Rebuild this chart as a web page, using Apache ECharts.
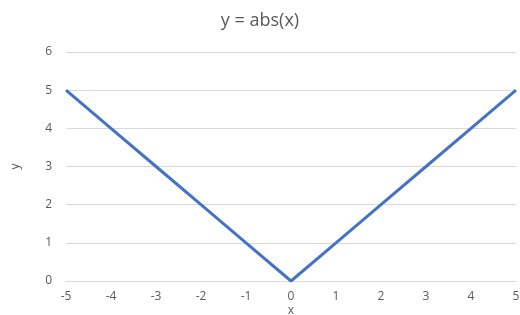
<!DOCTYPE html>
<html>
<head>
<meta charset="utf-8">
<script src="https://cdn.jsdelivr.net/npm/echarts@6/dist/echarts.min.js"></script>
<style>html,body{margin:0;padding:0;background:#fff}#c{width:520px;height:315px}</style>
</head>
<body>
<div id="c"></div>
<script>
var xValues = [-5, -4, -3, -2, -1, 0, 1, 2, 3, 4, 5];
var yValues = [5, 4, 3, 2, 1, 0, 1, 2, 3, 4, 5];
var titleText = 'y = abs(x)';
var xName = 'x';
var yName = 'y';

var chart = echarts.init(document.getElementById('c'), null, {renderer: 'canvas'});
var font = '"Open Sans", sans-serif';
chart.setOption({
  animation: false,
  backgroundColor: '#ffffff',
  title: {
    text: titleText,
    left: 'center',
    top: 7,
    textStyle: {fontFamily: font, fontSize: 18, fontWeight: 'normal', color: '#595959'}
  },
  grid: {left: 66, right: 4, top: 52, bottom: 34, containLabel: false, outerBoundsMode: 'none'},
  xAxis: {
    type: 'value',
    min: -5, max: 5, interval: 1,
    name: xName,
    nameLocation: 'middle',
    nameGap: 24,
    nameMoveOverlap: false,
    nameTextStyle: {fontFamily: font, fontSize: 12, color: '#595959'},
    axisLine: {show: true, lineStyle: {color: '#d9d9d9', width: 1}},
    axisTick: {show: false},
    splitLine: {show: false},
    axisLabel: {fontFamily: font, fontSize: 12, color: '#595959', margin: 10}
  },
  yAxis: {
    type: 'value',
    min: 0, max: 6, interval: 1,
    name: yName,
    nameLocation: 'middle',
    nameGap: 44,
    nameRotate: 90,
    nameMoveOverlap: false,
    nameTextStyle: {fontFamily: font, fontSize: 12, color: '#595959'},
    axisLine: {show: false},
    axisTick: {show: false},
    splitLine: {show: true, lineStyle: {color: '#d9d9d9', width: 1}},
    axisLabel: {fontFamily: font, fontSize: 12, color: '#595959', margin: 14}
  },
  series: [{
    type: 'line',
    data: xValues.map(function (x, i) { return [x, yValues[i]]; }),
    showSymbol: false,
    lineStyle: {color: '#4472c4', width: 3},
    itemStyle: {color: '#4472c4'}
  }]
});
</script>
</body>
</html>
